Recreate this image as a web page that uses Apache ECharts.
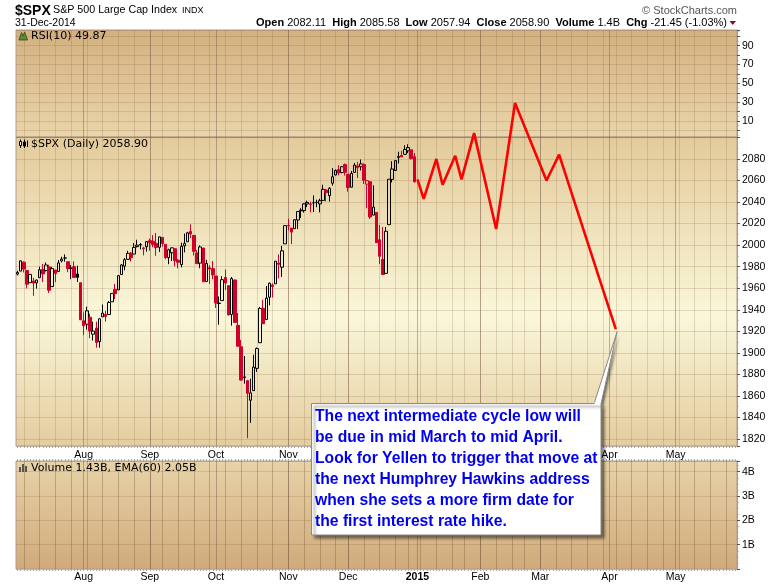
<!DOCTYPE html>
<html><head><meta charset="utf-8">
<script src="https://cdn.jsdelivr.net/npm/echarts/dist/echarts.min.js"></script>
<style>html,body{margin:0;padding:0;background:#fff}#c{width:780px;height:586px}</style>
</head><body><div id="c"></div>
<script>
// ---------- DATA ----------
const HOLIDAYS = ['2014-07-04','2014-09-01','2014-11-27','2014-12-25','2015-01-01','2015-01-19','2015-02-16','2015-04-03','2015-05-25'];
const START_DATE = '2014-07-02';
const END_DATE = '2015-05-29';
const PREV_CLOSE = 1973.3;

// [date, open, close, low, high]
const ohlc = [
['2014-07-02',1973.1,1974.6,1971.9,1976.2],['2014-07-03',1975.9,1985.4,1975.9,1985.6],
['2014-07-07',1984.2,1977.7,1974.7,1984.9],['2014-07-08',1976.4,1963.7,1959.8,1976.4],
['2014-07-09',1965.1,1972.8,1965.1,1973.0],['2014-07-10',1966.7,1964.7,1952.9,1969.8],
['2014-07-11',1965.0,1967.6,1959.7,1968.0],['2014-07-14',1969.8,1977.1,1969.8,1979.9],
['2014-07-15',1977.4,1973.3,1965.6,1982.5],['2014-07-16',1976.4,1981.6,1975.5,1983.9],
['2014-07-17',1979.8,1958.1,1955.6,1981.8],['2014-07-18',1961.5,1978.2,1961.5,1979.9],
['2014-07-21',1976.9,1973.6,1965.6,1976.9],['2014-07-22',1975.6,1983.5,1975.6,1986.2],
['2014-07-23',1985.3,1987.0,1983.9,1989.2],['2014-07-24',1988.1,1988.0,1984.6,1991.4],
['2014-07-25',1984.6,1978.3,1974.9,1984.6],['2014-07-28',1978.3,1978.9,1968.4,1981.5],
['2014-07-29',1980.0,1970.0,1969.8,1984.9],['2014-07-30',1973.2,1970.1,1965.8,1980.9],
['2014-07-31',1965.1,1930.7,1930.5,1965.1],
['2014-08-01',1929.8,1925.2,1916.4,1937.4],['2014-08-04',1926.6,1939.0,1921.5,1942.9],
['2014-08-05',1933.0,1920.2,1913.6,1936.3],['2014-08-06',1917.3,1920.2,1911.4,1928.9],
['2014-08-07',1923.0,1909.6,1904.8,1928.9],['2014-08-08',1910.4,1931.6,1904.8,1932.4],
['2014-08-11',1933.4,1936.9,1933.4,1944.9],['2014-08-12',1935.7,1933.8,1928.9,1939.0],
['2014-08-13',1935.6,1946.7,1935.6,1948.0],['2014-08-14',1947.4,1955.2,1947.4,1955.2],
['2014-08-15',1958.9,1955.1,1950.0,1964.0],['2014-08-18',1958.4,1971.7,1958.4,1971.9],
['2014-08-19',1972.7,1981.6,1972.7,1982.5],['2014-08-20',1980.5,1986.5,1976.7,1988.0],
['2014-08-21',1986.8,1992.4,1986.8,1994.8],['2014-08-22',1992.6,1988.4,1984.8,1993.5],
['2014-08-25',1991.7,1997.9,1991.7,2001.9],['2014-08-26',1998.6,2000.0,1997.9,2005.0],
['2014-08-27',2000.5,2000.1,1996.0,2002.0],['2014-08-28',1997.4,1996.7,1990.5,1998.5],
['2014-08-29',1998.5,2003.4,1993.9,2003.4],
['2014-09-02',2004.1,2002.3,1994.9,2006.1],['2014-09-03',2003.6,2000.7,1998.1,2009.3],
['2014-09-04',2001.7,1997.7,1990.1,2011.2],['2014-09-05',1998.0,2007.7,1993.7,2007.7],
['2014-09-08',2007.2,2001.5,1998.7,2007.2],['2014-09-09',2000.7,1988.4,1986.8,2001.0],
['2014-09-10',1988.4,1995.7,1982.3,1996.7],['2014-09-11',1992.9,1997.5,1985.2,1997.7],
['2014-09-12',1996.7,1985.5,1980.3,1996.7],['2014-09-15',1986.0,1984.1,1978.5,1987.2],
['2014-09-16',1981.9,1999.0,1979.4,2002.3],['2014-09-17',1999.3,2001.6,1993.3,2010.7],
['2014-09-18',2003.1,2011.4,2003.1,2012.3],['2014-09-19',2012.7,2010.4,2006.5,2019.3],
['2014-09-22',2009.1,1994.3,1990.4,2009.1],['2014-09-23',1992.8,1982.8,1982.8,1995.4],
['2014-09-24',1983.3,1998.3,1978.6,1999.8],['2014-09-25',1997.3,1966.0,1966.0,1997.3],
['2014-09-26',1966.2,1982.9,1966.2,1986.4],['2014-09-29',1979.0,1977.8,1964.0,1981.3],
['2014-09-30',1978.2,1972.3,1968.3,1985.2],
['2014-10-01',1971.4,1946.2,1941.7,1971.7],['2014-10-02',1945.8,1946.2,1926.0,1952.3],
['2014-10-03',1948.5,1967.9,1948.5,1971.2],['2014-10-06',1970.0,1964.8,1958.4,1977.4],
['2014-10-07',1962.4,1935.1,1935.1,1962.4],['2014-10-08',1935.6,1968.9,1925.3,1970.4],
['2014-10-09',1967.7,1928.2,1927.6,1967.7],['2014-10-10',1925.6,1906.1,1906.1,1937.0],
['2014-10-13',1905.7,1874.7,1874.1,1912.1],['2014-10-14',1877.1,1877.7,1871.4,1897.1],
['2014-10-15',1874.2,1862.5,1820.7,1874.2],['2014-10-16',1856.0,1862.8,1835.0,1876.0],
['2014-10-17',1864.9,1886.8,1864.9,1898.2],['2014-10-20',1885.6,1904.0,1882.3,1905.0],
['2014-10-21',1909.4,1941.3,1909.4,1942.5],['2014-10-22',1941.3,1927.1,1926.7,1949.3],
['2014-10-23',1931.0,1950.8,1931.0,1962.0],['2014-10-24',1951.6,1964.6,1944.1,1965.3],
['2014-10-27',1963.0,1961.6,1951.4,1964.6],['2014-10-28',1964.1,1985.1,1964.1,1985.1],
['2014-10-29',1983.3,1982.3,1969.0,1991.4],['2014-10-30',1979.5,1994.7,1970.5,1999.4],
['2014-10-31',2001.2,2018.1,2001.2,2018.2],
['2014-11-03',2018.2,2017.8,2013.7,2024.5],['2014-11-04',2015.8,2012.1,2001.0,2016.0],
['2014-11-05',2015.3,2023.6,2015.3,2023.8],['2014-11-06',2023.3,2031.2,2015.0,2031.6],
['2014-11-07',2032.4,2031.9,2025.1,2034.3],['2014-11-10',2032.0,2038.3,2030.2,2038.7],
['2014-11-11',2038.2,2039.7,2035.4,2041.3],['2014-11-12',2037.8,2038.3,2030.4,2040.3],
['2014-11-13',2039.2,2039.3,2030.7,2046.2],['2014-11-14',2039.7,2039.8,2035.2,2042.2],
['2014-11-17',2038.3,2041.3,2030.4,2043.1],['2014-11-18',2041.5,2051.8,2041.2,2056.1],
['2014-11-19',2051.2,2048.7,2040.5,2052.1],['2014-11-20',2045.9,2052.8,2040.4,2053.8],
['2014-11-21',2057.5,2063.5,2055.3,2071.5],['2014-11-24',2065.1,2069.4,2064.8,2070.2],
['2014-11-25',2070.2,2067.0,2064.8,2074.2],['2014-11-26',2067.4,2072.8,2066.7,2073.2],
['2014-11-28',2074.8,2067.6,2064.6,2075.8],
['2014-12-01',2065.8,2053.4,2049.6,2065.8],['2014-12-02',2053.8,2066.6,2053.8,2068.8],
['2014-12-03',2067.5,2074.3,2067.5,2076.3],['2014-12-04',2073.6,2071.9,2062.3,2077.3],
['2014-12-05',2072.8,2075.4,2069.3,2079.5],['2014-12-08',2074.8,2060.3,2056.8,2075.8],
['2014-12-09',2056.6,2059.8,2034.2,2060.6],['2014-12-10',2058.9,2026.1,2024.3,2058.9],
['2014-12-11',2027.9,2035.3,2027.9,2055.5],['2014-12-12',2030.4,2002.3,2002.3,2030.4],
['2014-12-15',2005.0,1989.6,1982.3,2018.7],['2014-12-16',1986.7,1972.7,1972.6,2016.9],
['2014-12-17',1973.8,2012.9,1973.8,2016.8],['2014-12-18',2019.0,2061.2,2019.0,2061.2],
['2014-12-19',2061.0,2070.7,2058.2,2077.9],['2014-12-22',2069.3,2078.5,2069.3,2078.8],
['2014-12-23',2081.5,2082.2,2075.8,2086.7],['2014-12-24',2083.3,2081.9,2081.9,2087.6],
['2014-12-26',2084.3,2088.8,2084.3,2092.7],['2014-12-29',2087.6,2090.6,2085.6,2093.6],
['2014-12-30',2088.5,2080.4,2079.5,2088.5],['2014-12-31',2082.1,2058.9,2057.9,2085.6]
];

// hand-drawn projection (red line)
const projDates  = ['2015-01-02','2015-01-06','2015-01-12','2015-01-14','2015-01-21','2015-01-23','2015-01-29','2015-02-09','2015-02-18','2015-03-04','2015-03-10','2015-04-06'];
const projValues = [2061, 2043, 2080, 2056, 2083, 2061, 2104, 2015, 2132, 2060, 2084, 1922];

const rsiTickLabels = [10, 30, 50, 70, 90];
const priceTickLabels = [1820,1840,1860,1880,1900,1920,1940,1960,1980,2000,2020,2040,2060,2080];
const volTickLabels = [1e9, 2e9, 3e9, 4e9];
const MONTHS = ['Jan','Feb','Mar','Apr','May','Jun','Jul','Aug','Sep','Oct','Nov','Dec'];

const noteLines = [
 'The next intermediate cycle low will',
 'be due in mid March to mid April.',
 'Look for Yellen to trigger that move at',
 'the next Humphrey Hawkins address',
 'when she sets a more firm date for',
 'the first interest rate hike.'
];

// ---------- CALENDAR (axis categories) ----------
function tradingDays(start, end, hol){
  const out=[]; let d=new Date(start+'T00:00:00Z'); const e=new Date(end+'T00:00:00Z');
  while(d<=e){const wd=d.getUTCDay(); const s=d.toISOString().slice(0,10);
    if(wd!==0&&wd!==6&&hol.indexOf(s)<0) out.push(s);
    d=new Date(d.getTime()+86400000);}
  return out;
}
const cats = tradingDays(START_DATE, END_DATE, HOLIDAYS);
const wd = s => new Date(s+'T00:00:00Z').getUTCDay();
const isWeekStart = cats.map((s,i)=> i>0 && wd(s) < wd(cats[i-1]));
const isMonthStart = cats.map((s,i)=> i>0 && s.slice(5,7)!==cats[i-1].slice(5,7));

// ---------- STYLE ----------
const RED = '#d0002a';
const BORDER = '#b29a8c';
const WEEK_LINE = 'rgba(125,90,60,0.2)';
const MONTH_LINE = 'rgba(125,90,75,0.45)';
const AX_FONT = '"Liberation Sans", Arial, sans-serif';

const candleData = ohlc.map((r,i)=>{
  const o=r[1], c=r[2], l=r[3], h=r[4];
  const prev = i>0 ? ohlc[i-1][2] : PREV_CLOSE;
  const col = c>=prev ? '#000' : RED;
  const hollow = c>=o;
  const fill = hollow ? 'rgba(0,0,0,0)' : col;
  return {value:[o,c,l,h], itemStyle:{color:fill, color0:fill, borderColor:col, borderColor0:col}};
});

function vgrad(stops){return {type:'linear',x:0,y:0,x2:0,y2:1,colorStops:stops.map(s=>({offset:s[0],color:s[1]}))};}

function xWeek(g, ticks, pos){
  return {type:'category', gridIndex:g, data:cats, position:pos||'bottom', boundaryGap:true,
    axisLine:{show:false},
    axisTick:{show:ticks, interval:0, length:2, alignWithLabel:true, lineStyle:{color:'#a9a9a9'}},
    axisLabel:{show:false},
    splitLine:{show:true, alignWithLabel:true, interval:(i)=>isWeekStart[i], lineStyle:{color:WEEK_LINE,width:1}}};
}
function xMonth(g, labels, margin){
  return {type:'category', gridIndex:g, data:cats, position:'bottom', boundaryGap:true,
    axisLine:{show:false}, axisTick:{show:false},
    axisLabel:{show:labels, interval:(i)=>isMonthStart[i], margin:margin, color:'#000', fontSize:10.5, fontFamily:AX_FONT,
      formatter:(v)=>{const m=+v.slice(5,7); return m===1 ? '{y|'+v.slice(0,4)+'}' : MONTHS[m-1];},
      rich:{y:{fontWeight:'bold', fontSize:10.5, fontFamily:AX_FONT, color:'#000'}}},
    splitLine:{show:true, alignWithLabel:true, interval:(i)=>isMonthStart[i], lineStyle:{color:MONTH_LINE,width:1}}};
}
function yAx(g, min, max, step, fmt, minorSplit){
  return {type:'value', gridIndex:g, position:'right', min:min, max:max, minInterval:step, maxInterval:step,
    axisLine:{show:true, lineStyle:{color:BORDER}},
    axisTick:{show:true, length:3, lineStyle:{color:'#555'}},
    minorTick:{show:true, splitNumber:minorSplit, length:1.5, lineStyle:{color:'#999'}},
    axisLabel:{margin:5, color:'#000', fontSize:10.5, fontFamily:AX_FONT, formatter:fmt, showMinLabel:false, showMaxLabel:false},
    splitLine:{show:true, lineStyle:{color:WEEK_LINE,width:1}}};
}

const T = (x,y,text,font,extra)=>({type:'text', z:50, style:Object.assign({x:x,y:y,text:text,font:font,fill:'#000',verticalAlign:'middle'},extra||{})});
const ZB = 200;

const option = {
  animation:false,
  backgroundColor:'#fff',
  grid:[
    {left:16, top:30, width:721, height:107, show:true, borderColor:BORDER, borderWidth:1,
      backgroundColor:vgrad([[0,'#d3b07f'],[1,'#e9d6aa']])},
    {left:16, top:137, width:721, height:309, show:true, borderColor:BORDER, borderWidth:1,
      backgroundColor:vgrad([[0,'#e3ca9a'],[0.58,'#faf7d9'],[1,'#e4cc9e']])},
    {left:16, top:461, width:721, height:108, show:true, borderColor:BORDER, borderWidth:1,
      backgroundColor:vgrad([[0,'#e7d3a8'],[1,'#d0aa7a']])}
  ],
  xAxis:[ xWeek(0,false), xMonth(0,false,0), xWeek(1,true), xMonth(1,true,4), xWeek(2,true), xMonth(2,true,3), xWeek(2,true,'top') ],
  yAxis:[
    yAx(0, -7, 106.7, 10, v=> rsiTickLabels.indexOf(v)>=0 ? String(v) : '', 2),
    yAx(1, 1813.5, 2100.4, 20, v=> priceTickLabels.indexOf(v)>=0 ? String(v) : '', 2),
    yAx(2, 0, 4.44e9, 1e9, v=> volTickLabels.indexOf(v)>=0 ? (v/1e9)+'B' : '', 4)
  ],
  series:[
    {type:'candlestick', xAxisIndex:2, yAxisIndex:1, data:candleData, barWidth:3,
      itemStyle:{borderWidth:1}},
    {type:'line', xAxisIndex:2, yAxisIndex:1, clip:false, z:20, symbol:'none',
      data:projDates.map((d,i)=>[d, projValues[i]]),
      lineStyle:{color:'#ff0000', width:2.6}}
  ],
  graphic:[
    T(15,11,'$SPX','bold 14px '+AX_FONT),
    T(53,10.5,'S&P 500 Large Cap Index','10.7px '+AX_FONT),
    T(182,10.5,'INDX','9px '+AX_FONT),
    T(15,23,'31-Dec-2014','10.5px '+AX_FONT),
    T(737,10.5,'© StockCharts.com','11px '+AX_FONT,{align:'right',fill:'#555'}),
    {type:'text', z:50, style:{x:727, y:23, align:'right', verticalAlign:'middle', fill:'#000',
      font:'11px '+AX_FONT,
      text:'{b|Open} 2082.11  {b|High} 2085.58  {b|Low} 2057.94  {b|Close} 2058.90  {b|Volume} 1.4B  {b|Chg} -21.45 (-1.03%)',
      rich:{b:{font:'bold 11px '+AX_FONT, fill:'#000'}}}},
    {type:'polygon', z:50, shape:{points:[[729.5,21],[736,21],[732.75,25]]}, style:{fill:'#8a0a30'}},
    // panel titles
    {type:'polygon', z:50, shape:{points:[[19,40],[21.5,32.5],[23,36],[24.6,32],[27.5,40]]}, style:{fill:'#5d8a34',stroke:'#2f4a1a',lineWidth:0.8}},
    T(31,36.5,'RSI(10) 49.87','11px "DejaVu Sans"'),
    {type:'line', z:50, shape:{x1:20.5,y1:139.5,x2:20.5,y2:148}, style:{stroke:'#000',lineWidth:1}},
    {type:'rect', z:51, shape:{x:19.5,y:141.5,width:2,height:4}, style:{fill:'#fff',stroke:'#000',lineWidth:1}},
    {type:'line', z:50, shape:{x1:24.5,y1:139.5,x2:24.5,y2:148}, style:{stroke:'#000',lineWidth:1}},
    {type:'rect', z:51, shape:{x:23.5,y:142,width:2,height:4}, style:{fill:'#000',stroke:'#000',lineWidth:1}},
    {type:'line', z:50, shape:{x1:27.5,y1:140.5,x2:27.5,y2:147}, style:{stroke:'#000',lineWidth:1}},
    T(31,144,'$SPX (Daily) 2058.90','11px "DejaVu Sans"'),
    {type:'rect', z:50, shape:{x:19,y:467,width:2,height:5}, style:{fill:'#555'}},
    {type:'rect', z:50, shape:{x:22,y:464,width:2,height:8}, style:{fill:'#555'}},
    {type:'rect', z:50, shape:{x:25,y:466,width:2,height:6}, style:{fill:'#555'}},
    T(31,468,'Volume 1.43B, EMA(60) 2.05B','11px "DejaVu Sans"'),
    // annotation
    {type:'polygon', z:ZB, shape:{points:[[594,404],[617,332],[601,404]]},
      style:{fill:'#fff', shadowBlur:3, shadowOffsetX:2, shadowOffsetY:2, shadowColor:'rgba(0,0,0,0.55)'}},
    {type:'polyline', z:ZB+1, shape:{points:[[594,404],[617,332],[601,404]]}, style:{stroke:'#8a8a8a', lineWidth:1, fill:null}},
    {type:'rect', z:ZB+2, shape:{x:311.5,y:403.5,width:289.5,height:131.5},
      style:{fill:'#fff', stroke:'#8a8a8a', lineWidth:1, shadowBlur:3, shadowOffsetX:3, shadowOffsetY:3, shadowColor:'rgba(0,0,0,0.55)'}},
    {type:'rect', z:ZB+3, shape:{x:594.5,y:402,width:6,height:3}, style:{fill:'#fff'}},
    {type:'text', z:ZB+4, style:{x:315, y:406, text:noteLines.join('\n'), font:'bold 15.7px '+AX_FONT, fill:'#0000ee', lineHeight:21, verticalAlign:'top'}}
  ]
};
echarts.init(document.getElementById('c'), null, {renderer:'canvas'}).setOption(option);
</script></body></html>
